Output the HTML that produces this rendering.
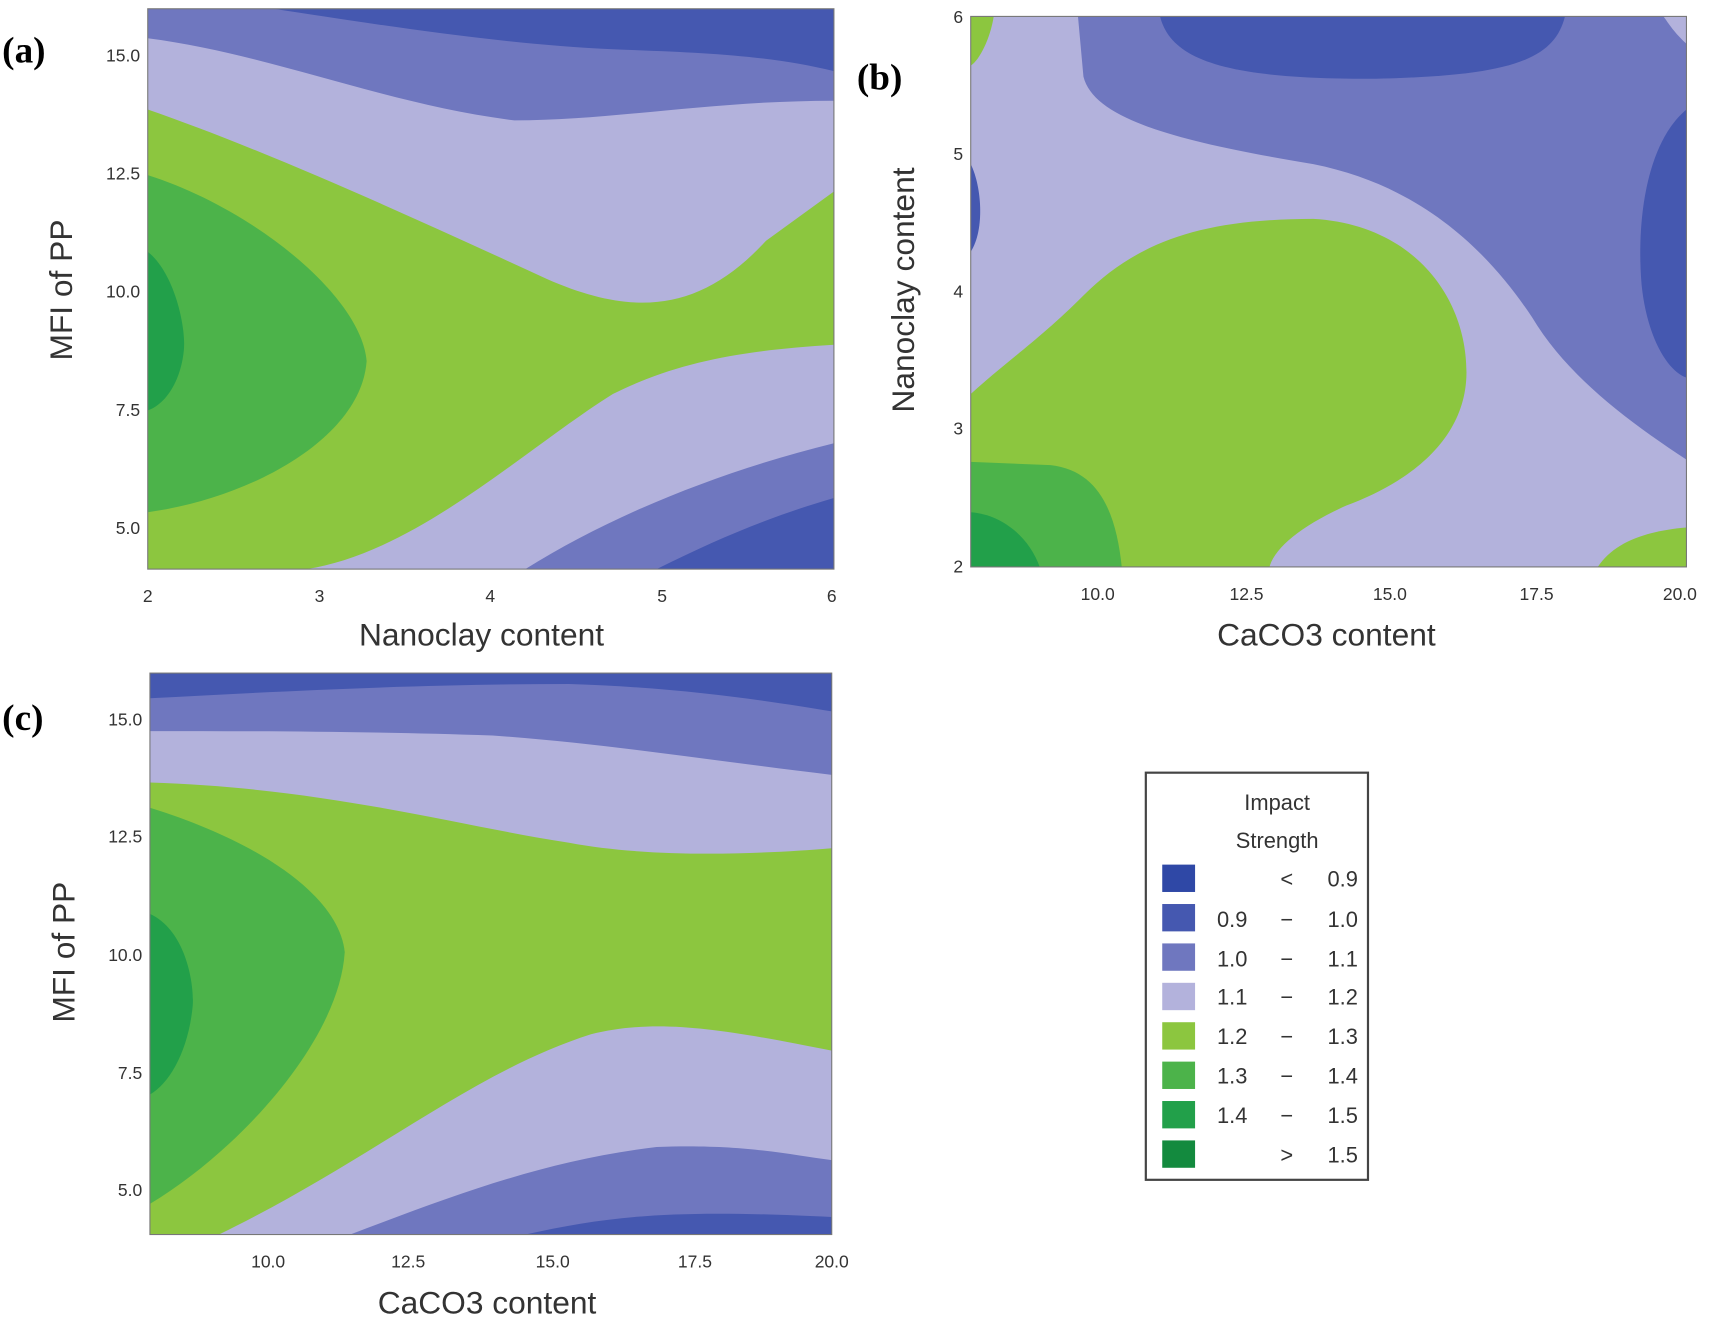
<!DOCTYPE html>
<html><head><style>html,body{margin:0;padding:0;background:#fff}svg{display:block}</style></head><body>
<svg width="1716" height="1321" viewBox="0 0 1568 1207" preserveAspectRatio="none" xmlns="http://www.w3.org/2000/svg" font-family="Liberation Sans, sans-serif">
<defs>
<clipPath id="ca"><rect x="135" y="8" width="627" height="512"/></clipPath>
<clipPath id="cb"><rect x="887" y="15" width="654" height="503"/></clipPath>
<clipPath id="cc"><rect x="137" y="615" width="623" height="513"/></clipPath>
</defs>
<!-- Plot a -->
<g clip-path="url(#ca)">
<rect x="135" y="8" width="627" height="512" fill="#b3b2dc"/>
<path d="M135,8 L762,8 L762,92 C650,92 560,110 470,110 C350,95 250,50 135,35 Z" fill="#6f77bf"/>
<path d="M250,8 L762,8 L762,65 C700,50 640,48 560,45 C450,40 330,20 250,8 Z" fill="#4558b0"/>
<path d="M135,100 C250,140 380,200 500,255 C580,290 640,285 700,220 L762,175 L762,315 C680,320 620,330 560,360 C480,410 380,505 280,520 L135,520 Z" fill="#8cc63f"/>
<path d="M135,160 C230,190 330,270 335,330 C330,400 230,455 135,468 Z" fill="#4cb34a"/>
<path d="M135,230 C160,250 170,300 168,320 C165,350 150,370 135,375 Z" fill="#22a04a"/>
<path d="M480,520 C560,470 660,430 762,405 L762,520 Z" fill="#6f77bf"/>
<path d="M600,520 C660,490 710,470 762,455 L762,520 Z" fill="#4558b0"/>
</g>
<rect x="135" y="8" width="627" height="512" fill="none" stroke="#777" stroke-width="1"/>
<!-- Plot b -->
<g clip-path="url(#cb)">
<rect x="887" y="15" width="654" height="503" fill="#b3b2dc"/>
<path d="M985,15 L1541,15 L1541,420 C1480,380 1430,340 1400,290 C1360,230 1300,170 1200,150 C1080,130 1000,110 990,70 Z" fill="#6f77bf"/>
<path d="M1060,15 L1430,15 C1420,55 1380,70 1250,72 C1120,72 1070,55 1060,15 Z" fill="#4558b0"/>
<path d="M1541,100 C1505,130 1495,200 1500,260 C1505,310 1525,340 1541,345 Z" fill="#4558b0"/>
<path d="M887,150 C897,170 900,210 887,230 Z" fill="#4558b0"/>
<path d="M887,15 L908,15 C905,35 895,55 887,60 Z" fill="#8cc63f"/>
<path d="M1520,15 L1541,15 L1541,40 C1530,30 1525,22 1520,15 Z" fill="#b3b2dc"/>
<path d="M887,360 C920,330 950,310 990,270 C1040,220 1100,200 1200,200 C1290,205 1340,270 1340,340 C1340,400 1290,440 1230,462 C1190,480 1165,500 1160,518 L887,518 Z" fill="#8cc63f"/>
<path d="M887,422 L960,425 C1005,430 1020,470 1025,518 L887,518 Z" fill="#4cb34a"/>
<path d="M887,468 C915,470 940,490 950,518 L887,518 Z" fill="#22a04a"/>
<path d="M1460,518 C1475,495 1505,485 1541,482 L1541,518 Z" fill="#8cc63f"/>
</g>
<rect x="887" y="15" width="654" height="503" fill="none" stroke="#777" stroke-width="1"/>
<!-- Plot c -->
<g clip-path="url(#cc)">
<rect x="137" y="615" width="623" height="513" fill="#b3b2dc"/>
<path d="M137,615 L760,615 L760,708 C650,695 560,680 450,672 C330,668 230,668 137,668 Z" fill="#6f77bf"/>
<path d="M137,615 L760,615 L760,650 C700,640 620,628 520,625 C380,625 250,632 137,638 Z" fill="#4558b0"/>
<path d="M137,715 C300,720 420,755 520,770 C600,785 700,780 760,775 L760,960 C660,940 600,930 540,945 C430,980 340,1060 200,1128 L137,1128 Z" fill="#8cc63f"/>
<path d="M137,738 C240,770 310,820 315,870 C310,950 220,1050 137,1100 Z" fill="#4cb34a"/>
<path d="M137,835 C170,850 178,900 176,920 C172,960 155,990 137,1000 Z" fill="#22a04a"/>
<path d="M320,1128 C420,1090 500,1060 600,1048 C680,1045 720,1055 760,1060 L760,1128 Z" fill="#6f77bf"/>
<path d="M480,1128 C560,1110 620,1105 760,1112 L760,1128 Z" fill="#4558b0"/>
</g>
<rect x="137" y="615" width="623" height="513" fill="none" stroke="#777" stroke-width="1"/>
<!-- panel labels -->
<g font-family="Liberation Serif, serif" font-weight="bold" font-size="34">
<text x="2" y="57">(a)</text><text x="783" y="82">(b)</text><text x="2" y="667">(c)</text>
</g>
<!-- ticks a -->
<g font-size="16" fill="#333" text-anchor="end">
<text x="128" y="56">15.0</text><text x="128" y="164">12.5</text><text x="128" y="272">10.0</text><text x="128" y="380">7.5</text><text x="128" y="488">5.0</text>
<text x="880" y="21">6</text><text x="880" y="146">5</text><text x="880" y="272">4</text><text x="880" y="397">3</text><text x="880" y="523">2</text>
<text x="130" y="663">15.0</text><text x="130" y="770">12.5</text><text x="130" y="878">10.0</text><text x="130" y="986">7.5</text><text x="130" y="1093">5.0</text>
</g>
<g font-size="16" fill="#333" text-anchor="middle">
<text x="135" y="550">2</text><text x="292" y="550">3</text><text x="448" y="550">4</text><text x="605" y="550">5</text><text x="760" y="550">6</text>
<text x="1003" y="548">10.0</text><text x="1139" y="548">12.5</text><text x="1270" y="548">15.0</text><text x="1404" y="548">17.5</text><text x="1535" y="548">20.0</text>
<text x="245" y="1158">10.0</text><text x="373" y="1158">12.5</text><text x="505" y="1158">15.0</text><text x="635" y="1158">17.5</text><text x="760" y="1158">20.0</text>
</g>
<g font-size="29" fill="#333" text-anchor="middle">
<text x="440" y="590">Nanoclay content</text>
<text x="1212" y="590">CaCO3 content</text>
<text x="445" y="1200">CaCO3 content</text>
<text transform="translate(66,265) rotate(-90)">MFI of PP</text>
<text transform="translate(835,265) rotate(-90)">Nanoclay content</text>
<text transform="translate(68,870) rotate(-90)">MFI of PP</text>
</g>
<!-- legend -->
<rect x="1047" y="706" width="203" height="372" fill="#fff" stroke="#444" stroke-width="2"/>
<g font-size="20" fill="#333">
<text x="1167" y="740" text-anchor="middle">Impact</text>
<text x="1167" y="775" text-anchor="middle">Strength</text>
<rect x="1062" y="790" width="30" height="25" fill="#2f48a6"/><text x="1170" y="810">&lt;</text><text x="1213" y="810">0.9</text>
<rect x="1062" y="826" width="30" height="25" fill="#4558b0"/><text x="1112" y="847">0.9</text><text x="1170" y="847">−</text><text x="1213" y="847">1.0</text>
<rect x="1062" y="862" width="30" height="25" fill="#6f77bf"/><text x="1112" y="883">1.0</text><text x="1170" y="883">−</text><text x="1213" y="883">1.1</text>
<rect x="1062" y="898" width="30" height="25" fill="#b3b2dc"/><text x="1112" y="918">1.1</text><text x="1170" y="918">−</text><text x="1213" y="918">1.2</text>
<rect x="1062" y="934" width="30" height="25" fill="#8cc63f"/><text x="1112" y="954">1.2</text><text x="1170" y="954">−</text><text x="1213" y="954">1.3</text>
<rect x="1062" y="970" width="30" height="25" fill="#4cb34a"/><text x="1112" y="990">1.3</text><text x="1170" y="990">−</text><text x="1213" y="990">1.4</text>
<rect x="1062" y="1006" width="30" height="25" fill="#22a04a"/><text x="1112" y="1026">1.4</text><text x="1170" y="1026">−</text><text x="1213" y="1026">1.5</text>
<rect x="1062" y="1042" width="30" height="25" fill="#138a3e"/><text x="1170" y="1062">&gt;</text><text x="1213" y="1062">1.5</text>
</g>
</svg>
</body></html>
